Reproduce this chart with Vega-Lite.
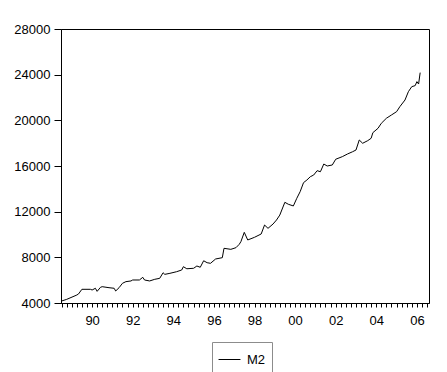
{
  "$schema": "https://vega.github.io/schema/vega-lite/v6.json",
  "autosize": "none",
  "width": 368,
  "height": 274,
  "padding": {"left": 61, "top": 29, "right": 18, "bottom": 69},
  "background": "#ffffff",
  "config": {
    "view": {"stroke": "#000000", "strokeWidth": 1},
    "font": "Liberation Sans",
    "axis": {"labelFont": "Liberation Sans", "labelColor": "#000000", "domainColor": "#000000", "tickColor": "#000000", "grid": false}
  },
  "data": {
    "values": [
      {"date": "1988-07-01", "M2": 4175},
      {"date": "1988-10-01", "M2": 4320},
      {"date": "1989-04-01", "M2": 4700},
      {"date": "1989-05-01", "M2": 4790},
      {"date": "1989-07-01", "M2": 5200},
      {"date": "1989-12-01", "M2": 5200},
      {"date": "1990-01-01", "M2": 5140},
      {"date": "1990-03-01", "M2": 5290},
      {"date": "1990-04-01", "M2": 5020},
      {"date": "1990-06-01", "M2": 5375},
      {"date": "1990-07-01", "M2": 5430},
      {"date": "1990-11-01", "M2": 5340},
      {"date": "1991-02-01", "M2": 5290},
      {"date": "1991-03-01", "M2": 5050},
      {"date": "1991-05-01", "M2": 5340},
      {"date": "1991-07-01", "M2": 5725},
      {"date": "1991-09-01", "M2": 5870},
      {"date": "1991-12-01", "M2": 5930},
      {"date": "1992-01-01", "M2": 6015},
      {"date": "1992-05-01", "M2": 6015},
      {"date": "1992-07-01", "M2": 6250},
      {"date": "1992-08-01", "M2": 6015},
      {"date": "1992-11-01", "M2": 5930},
      {"date": "1993-02-01", "M2": 6075},
      {"date": "1993-05-01", "M2": 6160},
      {"date": "1993-07-01", "M2": 6650},
      {"date": "1993-08-01", "M2": 6510},
      {"date": "1993-11-01", "M2": 6600},
      {"date": "1994-03-01", "M2": 6740},
      {"date": "1994-06-01", "M2": 6890},
      {"date": "1994-07-01", "M2": 7180},
      {"date": "1994-09-01", "M2": 7000},
      {"date": "1995-01-01", "M2": 7040},
      {"date": "1995-03-01", "M2": 7240},
      {"date": "1995-05-01", "M2": 7130},
      {"date": "1995-07-01", "M2": 7700},
      {"date": "1995-09-01", "M2": 7530},
      {"date": "1995-11-01", "M2": 7475},
      {"date": "1996-02-01", "M2": 7855},
      {"date": "1996-06-01", "M2": 7970},
      {"date": "1996-07-01", "M2": 8790},
      {"date": "1996-11-01", "M2": 8700},
      {"date": "1997-02-01", "M2": 8845},
      {"date": "1997-04-01", "M2": 9140},
      {"date": "1997-05-01", "M2": 9370},
      {"date": "1997-07-01", "M2": 10190},
      {"date": "1997-09-01", "M2": 9520},
      {"date": "1998-01-01", "M2": 9755},
      {"date": "1998-05-01", "M2": 10045},
      {"date": "1998-07-01", "M2": 10830},
      {"date": "1998-09-01", "M2": 10540},
      {"date": "1998-12-01", "M2": 10920},
      {"date": "1999-02-01", "M2": 11270},
      {"date": "1999-04-01", "M2": 11700},
      {"date": "1999-07-01", "M2": 12820},
      {"date": "1999-09-01", "M2": 12650},
      {"date": "1999-12-01", "M2": 12500},
      {"date": "2000-02-01", "M2": 13170},
      {"date": "2000-04-01", "M2": 13750},
      {"date": "2000-06-01", "M2": 14540},
      {"date": "2000-08-01", "M2": 14775},
      {"date": "2000-10-01", "M2": 15060},
      {"date": "2000-12-01", "M2": 15210},
      {"date": "2001-02-01", "M2": 15590},
      {"date": "2001-04-01", "M2": 15500},
      {"date": "2001-06-01", "M2": 16175},
      {"date": "2001-08-01", "M2": 16000},
      {"date": "2001-11-01", "M2": 16090},
      {"date": "2002-01-01", "M2": 16590},
      {"date": "2002-05-01", "M2": 16820},
      {"date": "2002-08-01", "M2": 17050},
      {"date": "2002-11-01", "M2": 17250},
      {"date": "2003-01-01", "M2": 17400},
      {"date": "2003-03-01", "M2": 18280},
      {"date": "2003-05-01", "M2": 17990},
      {"date": "2003-08-01", "M2": 18220},
      {"date": "2003-10-01", "M2": 18430},
      {"date": "2003-11-01", "M2": 18920},
      {"date": "2004-02-01", "M2": 19300},
      {"date": "2004-04-01", "M2": 19740},
      {"date": "2004-07-01", "M2": 20180},
      {"date": "2004-10-01", "M2": 20470},
      {"date": "2005-01-01", "M2": 20760},
      {"date": "2005-03-01", "M2": 21200},
      {"date": "2005-06-01", "M2": 21780},
      {"date": "2005-08-01", "M2": 22510},
      {"date": "2005-10-01", "M2": 22950},
      {"date": "2005-12-01", "M2": 23040},
      {"date": "2006-01-01", "M2": 23390},
      {"date": "2006-02-01", "M2": 23180},
      {"date": "2006-03-01", "M2": 24180}
    ]
  },
  "mark": {"type": "line", "color": "#000000", "strokeWidth": 1},
  "encoding": {
    "x": {
      "field": "date",
      "type": "temporal",
      "scale": {
        "type": "utc",
        "domain": [
          {"year": 1988, "month": 6, "date": 20, "utc": true},
          {"year": 2006, "month": 8, "date": 7, "utc": true}
        ]
      },
      "axis": {
        "title": null,
        "tickCount": {"interval": "month", "step": 3},
        "labelExpr": "utcmonth(datum.value) == 0 && utcyear(datum.value) % 2 == 0 ? utcFormat(datum.value, '%y') : ''",
        "labelOverlap": false,
        "labelFlush": false,
        "labelFontSize": 13,
        "labelBaseline": "top",
        "tickSize": 4,
        "labelPadding": 7
      }
    },
    "y": {
      "field": "M2",
      "type": "quantitative",
      "scale": {"domain": [4000, 28000], "nice": false, "zero": false},
      "axis": {
        "title": null,
        "values": [4000, 8000, 12000, 16000, 20000, 24000, 28000],
        "format": "d",
        "labelFontSize": 13,
        "tickSize": 7,
        "labelPadding": 4
      }
    },
    "color": {
      "datum": "M2",
      "scale": {"range": ["#000000"]},
      "legend": {
        "title": null,
        "orient": "none",
        "legendX": 151,
        "legendY": 313,
        "symbolType": "stroke",
        "symbolSize": 480,
        "symbolStrokeWidth": 1,
        "labelFontSize": 13,
        "labelFont": "Liberation Sans",
        "labelColor": "#000000",
        "labelOffset": 6,
        "strokeColor": "#8c8c8c",
        "padding": 6,
        "fillColor": "#ffffff"
      }
    }
  }
}
